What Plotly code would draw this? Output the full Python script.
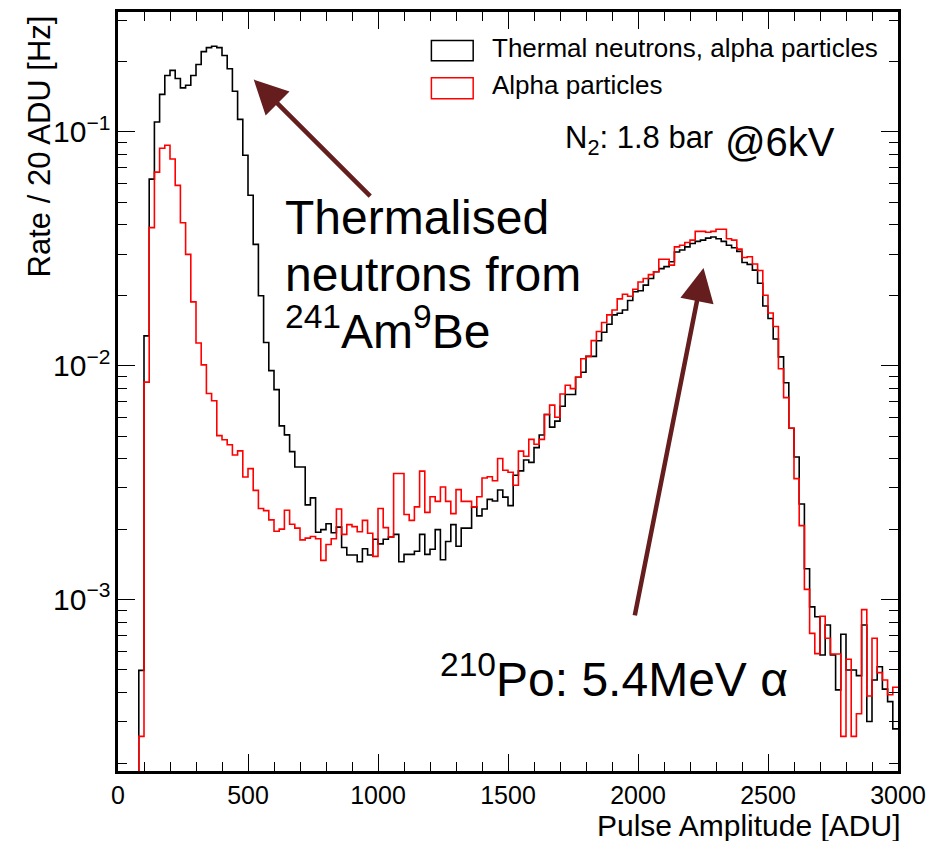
import numpy as np
import plotly.graph_objects as go

# Pulse-amplitude spectra, 20 ADU bins from 0 to 3000 ADU (rate in Hz per bin)
bin_width = 20
bin_edges = np.arange(0, 3000 + bin_width, bin_width)

rate_neutrons_alpha = [
    0, 0, 0, 0, 0.000498, 0.0134, 0.0627, 0.110, 0.1445, 0.174,
    0.183, 0.169, 0.154, 0.158, 0.174, 0.194, 0.220, 0.229, 0.232, 0.229,
    0.212, 0.186, 0.149, 0.113, 0.0793, 0.0535, 0.0330, 0.0199, 0.01256, 0.00952,
    0.00790, 0.00553, 0.00506, 0.00429, 0.00369, 0.00369, 0.00254, 0.00272, 0.00194, 0.00199,
    0.00211, 0.00193, 0.00204, 0.00167, 0.00155, 0.00155, 0.00145, 0.00165, 0.00155, 0.00181,
    0.00173, 0.00181, 0.00185, 0.00190, 0.00145, 0.00156, 0.00156, 0.00161, 0.00190, 0.00156,
    0.00164, 0.00199, 0.00148, 0.00177, 0.00209, 0.00169, 0.00202, 0.00202, 0.00249, 0.00228,
    0.00244, 0.00268, 0.00264, 0.00294, 0.00274, 0.00252, 0.00340, 0.00355, 0.00395, 0.00386,
    0.00446, 0.00505, 0.00618, 0.00546, 0.00579, 0.00671, 0.00753, 0.00753, 0.00892, 0.00937,
    0.01096, 0.01096, 0.01277, 0.0139, 0.01503, 0.01648, 0.01674, 0.0173, 0.0190, 0.0207,
    0.0209, 0.0221, 0.0236, 0.0252, 0.0260, 0.0265, 0.0278, 0.0306, 0.0312, 0.0322,
    0.0333, 0.0340, 0.0344, 0.0351, 0.0355, 0.0349, 0.0340, 0.0327, 0.0319, 0.0308,
    0.0276, 0.0271, 0.0256, 0.0225, 0.0180, 0.0159, 0.0130, 0.0109, 0.00845, 0.0054,
    0.00407, 0.00256, 0.001355, 0.00093, 0.000844, 0.000579, 0.000778, 0.000579, 0.000411, 0.000711,
    0.000500, 0.000500, 0.000473, 0.000778, 0.000301, 0.000453, 0.000516, 0.000414, 0.000366, 0.000280,
]

rate_alpha = [
    0, 0, 0, 0, 0.00026, 0.0085, 0.0389, 0.0672, 0.0850, 0.0875,
    0.0765, 0.0590, 0.0408, 0.0299, 0.01874, 0.0125, 0.01008, 0.00760, 0.00708, 0.00502,
    0.00482, 0.00459, 0.00415, 0.00432, 0.00334, 0.00363, 0.00293, 0.00245, 0.00240, 0.00219,
    0.00196, 0.00200, 0.00241, 0.00210, 0.00202, 0.00180, 0.00183, 0.00186, 0.00182, 0.00147,
    0.00172, 0.00182, 0.00244, 0.00190, 0.00209, 0.00205, 0.00195, 0.00218, 0.00192, 0.00153,
    0.00245, 0.00203, 0.00185, 0.00346, 0.00346, 0.00231, 0.00218, 0.00249, 0.00354, 0.00236,
    0.00275, 0.00263, 0.00303, 0.00263, 0.00233, 0.00295, 0.00263, 0.00263, 0.00249, 0.00275,
    0.00331, 0.00335, 0.00322, 0.00401, 0.00357, 0.00350, 0.00308, 0.00431, 0.00410, 0.00484,
    0.00461, 0.00484, 0.00618, 0.00678, 0.00602, 0.00757, 0.00824, 0.00798, 0.00892, 0.01071,
    0.01096, 0.0128, 0.0140, 0.0153, 0.01648, 0.0173, 0.0193, 0.0202, 0.0198, 0.0212,
    0.0228, 0.0236, 0.0245, 0.0252, 0.0285, 0.0285, 0.0269, 0.0322, 0.0327, 0.0336,
    0.0344, 0.0375, 0.0375, 0.0372, 0.0375, 0.0383, 0.0383, 0.0349, 0.0344, 0.0315,
    0.0290, 0.0292, 0.0272, 0.0255, 0.0200, 0.0168, 0.0147, 0.0097, 0.0073, 0.0054,
    0.00329, 0.00207, 0.001105, 0.000717, 0.000587, 0.000849, 0.000683, 0.000585, 0.000585, 0.000260,
    0.000556, 0.000260, 0.000325, 0.000906, 0.000387, 0.000683, 0.000487, 0.000453, 0.000392, 0.000422,
]

series_names = ["Thermal neutrons, alpha particles", "Alpha particles"]
series_colors = ["#000000", "#ff0000"]

x_range = [0, 3000]
y_log_range = [-3.733, -0.488]
empty_floor = 1e-7  # empty bins are drawn below the visible range

FONT = "Liberation Sans, Arial, Helvetica, sans-serif"

# figure geometry (pixels)
W, H = 935, 841
ML, MR, MT, MB = 118, 33, 9, 70
PW, PH = W - ML - MR, H - MT - MB


def px_x(px):
    return (px - ML) / PW


def px_y(py):
    return (H - MB - py) / PH


def step_xy(values):
    vals = [v if v > 0 else empty_floor for v in values]
    xs = list(bin_edges[:-1]) + [bin_edges[-1]]
    ys = vals + [vals[-1]]
    return xs, ys


fig = go.Figure()
for name, color, vals in zip(series_names, series_colors, [rate_neutrons_alpha, rate_alpha]):
    xs, ys = step_xy(vals)
    fig.add_trace(go.Scatter(
        x=xs, y=ys, mode="lines", name=name,
        line=dict(color=color, width=1.6, shape="hv"),
        showlegend=False, hoverinfo="skip",
    ))

annotations = []
shapes = []

# legend: hollow boxes with labels
legend_rows = [(37.5, 58), (75, 96)]
for (top, bot), name, color in zip(legend_rows, series_names, series_colors):
    shapes.append(dict(type="rect", xref="paper", yref="paper",
                       x0=px_x(433), x1=px_x(475), y0=px_y(bot), y1=px_y(top),
                       line=dict(color=color, width=1.5), fillcolor="rgba(0,0,0,0)"))
    annotations.append(dict(xref="paper", yref="paper", x=px_x(492), y=px_y((top + bot) / 2 - 3),
                            xanchor="left", yanchor="middle", showarrow=False, text=name,
                            font=dict(family=FONT, size=26, color="black")))


# text labels
def label(text, px, py, size, anchor="left"):
    annotations.append(dict(xref="paper", yref="paper", x=px_x(px), y=px_y(py),
                            xanchor=anchor, yanchor="middle", showarrow=False, text=text,
                            font=dict(family=FONT, size=size, color="black")))


label("N<sub>2</sub>: 1.8 bar", 565, 138, 31)
label("@6kV", 726, 140, 40)
label("Thermalised", 284, 215, 48)
label("neutrons from", 284, 273, 48)
label("<sup>241</sup>Am<sup>9</sup>Be", 284, 326, 48)
label("<sup>210</sup>Po: 5.4MeV α", 440, 676, 48)

# axis titles
annotations.append(dict(xref="paper", yref="paper", x=px_x(906), y=px_y(826),
                        xanchor="right", yanchor="middle", showarrow=False,
                        text="Pulse Amplitude [ADU]", font=dict(family=FONT, size=30, color="black")))
annotations.append(dict(xref="paper", yref="paper", x=px_x(40), y=px_y(10),
                        xanchor="center", yanchor="top", showarrow=False, textangle=-90,
                        text="Rate / 20 ADU [Hz]", font=dict(family=FONT, size=31, color="black")))

# arrows pointing at the two peaks
arrow_color = "rgba(88,10,10,0.92)"
for tip_adu, tip_log, dx, dy in [(522, -0.777, 118, 118), (2252, -1.582, -69, 349)]:
    annotations.append(dict(x=tip_adu, y=tip_log, xref="x", yref="y", ax=dx, ay=dy,
                            text="", showarrow=True, arrowhead=2, arrowsize=1.5,
                            arrowwidth=4.5, arrowcolor=arrow_color, standoff=0))

tick_font = dict(family=FONT, size=25, color="black")

fig.update_layout(
    width=W, height=H,
    margin=dict(l=ML, r=MR, t=MT, b=MB, pad=0),
    paper_bgcolor="white", plot_bgcolor="white",
    font=dict(family=FONT, color="black"),
    showlegend=False,
    annotations=annotations,
    shapes=shapes,
    xaxis=dict(
        range=x_range, dtick=500, tick0=0,
        ticks="inside", ticklen=17, tickwidth=1.3, tickcolor="black",
        minor=dict(dtick=100, ticks="inside", ticklen=9, tickwidth=1.3, tickcolor="black"),
        showline=True, linewidth=2.5, linecolor="black", mirror="allticks",
        showgrid=False, zeroline=False, tickfont=tick_font,
    ),
    yaxis=dict(
        type="log", range=y_log_range, dtick=1, exponentformat="power",
        ticks="inside", ticklen=17, tickwidth=1.3, tickcolor="black",
        minor=dict(dtick="D1", ticks="inside", ticklen=9, tickwidth=1.3, tickcolor="black"),
        showline=True, linewidth=2.5, linecolor="black", mirror="allticks",
        showgrid=False, zeroline=False, tickfont=dict(family=FONT, size=24, color="black"),
    ),
)

fig.write_html("out.html")
